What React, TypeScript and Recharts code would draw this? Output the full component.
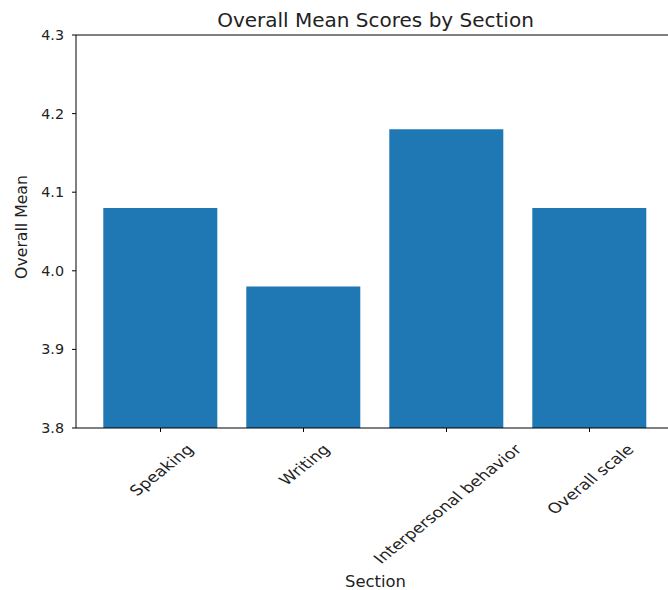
import React from "react";
import { BarChart, Bar, XAxis, YAxis, ReferenceLine } from "recharts";

const categories = ["Speaking", "Writing", "Interpersonal behavior", "Overall scale"];
const means = [4.08, 3.98, 4.18, 4.08];
const yTicks = [3.8, 3.9, 4.0, 4.1, 4.2, 4.3];

const FONT = '"DejaVu Sans", sans-serif';
const YTICK_FS = 14.3;
const XTICK_FS = 14.2;
const XTICK_STRETCH = 1.24;

let ctx: CanvasRenderingContext2D | null = null;
function measure(t: string, fs: number): number {
  if (!ctx) ctx = document.createElement("canvas").getContext("2d");
  if (!ctx) return t.length * fs * 0.6;
  ctx.font = `${fs}px "DejaVu Sans"`;
  return ctx.measureText(t).width;
}

const RotTick = (props: any) => {
  const { x, y, payload } = props;
  const w = measure(String(payload.value), XTICK_FS);
  const h = XTICK_FS * 1.0;
  const cy = y + 2 + ((w + h) * 0.7071) / 2;
  return (
    <text
      transform={`translate(${x + 1},${cy}) scale(${XTICK_STRETCH},1) rotate(-45)`}
      textAnchor="middle"
      dominantBaseline="central"
      fontFamily={FONT}
      fontSize={XTICK_FS}
      fill="#222"
    >
      {payload.value}
    </text>
  );
};

export default function App() {
  const data = categories.map((c, i) => ({ section: c, mean: means[i] }));
  return (
    <div style={{ position: "fixed", left: 0, top: 0, width: 668, height: 590, overflow: "hidden", background: "#fff" }}>
      <BarChart
        width={680}
        height={590}
        data={data}
        margin={{ top: 35, right: 6, bottom: 0, left: 0 }}
        barCategoryGap="10%"
      >
        <XAxis
          dataKey="section"
          height={162}
          padding={{ left: 13, right: 13 }}
          stroke="#000"
          tickSize={4}
          tickMargin={8}
          tickLine={{ stroke: "#000" }}
          tick={<RotTick />}
          interval={0}
        />
        <YAxis
          width={76}
          domain={[3.8, 4.3]}
          ticks={yTicks}
          allowDataOverflow
          stroke="#000"
          tickSize={4}
          tickMargin={8}
          tickFormatter={(v: number) => v.toFixed(1)}
          tick={{ fontFamily: FONT, fontSize: YTICK_FS, fill: "#222" }}
        />
        <ReferenceLine y={4.3} stroke="#000" ifOverflow="visible" />
        <Bar dataKey="mean" fill="#1f77b4" isAnimationActive={false} />
      </BarChart>
      <svg width={668} height={590} style={{ position: "absolute", left: 0, top: 0, pointerEvents: "none" }}>
        <text x={375.5} y={27} textAnchor="middle" fontFamily={FONT} fontSize={20} fill="#222">
          Overall Mean Scores by Section
        </text>
        <text
          transform="translate(21,227) rotate(-90)"
          textAnchor="middle"
          dominantBaseline="central"
          fontFamily={FONT}
          fontSize={15.7}
          fill="#222"
        >
          Overall Mean
        </text>
        <text x={375.5} y={587} textAnchor="middle" fontFamily={FONT} fontSize={16.4} fill="#222">
          Section
        </text>
      </svg>
    </div>
  );
}
